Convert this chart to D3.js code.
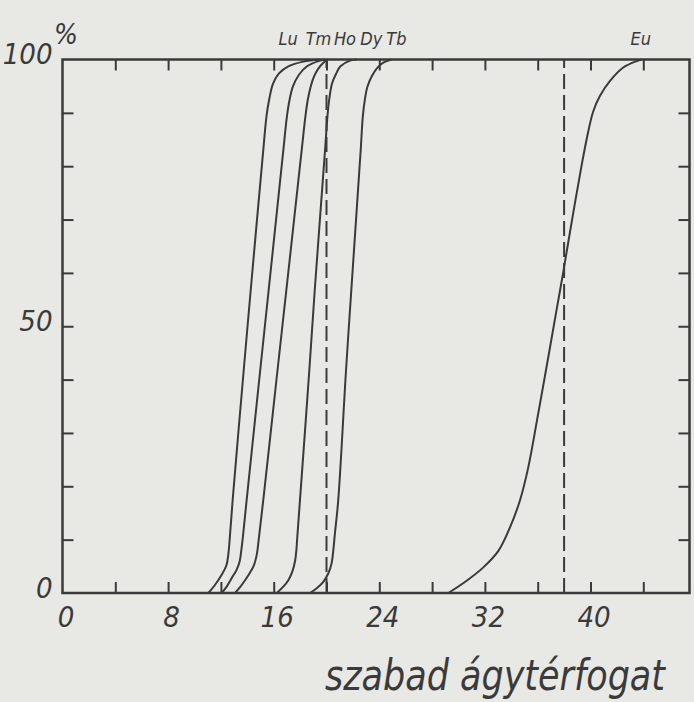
<!DOCTYPE html>
<html>
<head>
<meta charset="utf-8">
<script src="https://cdn.jsdelivr.net/npm/d3@7"></script>
<style>
  html, body { margin: 0; padding: 0; background: #e8e8e4; }
  svg { display: block; }
  .lbl { font-family: "Liberation Sans Narrow", "DejaVu Sans Condensed", sans-serif; font-style: italic; fill: #3a3a3a; }
  .tick line { stroke: #3a3a3a; stroke-width: 2; }
</style>
</head>
<body>
<div id="container"></div>
<script>
// elution curves, x = szabad ágytérfogat, y = %
const names = ["Lu", "Tm", "Ho", "Dy", "Tb", "Eu"];

const luX = [11.05, 11.55, 12.06, 12.42, 12.57, 12.66, 12.89, 13.73, 14.26, 15.21, 15.45, 15.65, 15.95, 16.40, 17.11, 18.24, 19.51];
const luY = [0, 1.5, 3.4, 5.2, 7.4, 9.9, 17.4, 41.8, 56.8, 83.0, 89.3, 92.4, 95.5, 97.4, 98.7, 99.6, 100];

const tmX = [12.06, 12.44, 12.82, 13.18, 13.42, 13.55, 13.67, 13.95, 14.98, 15.62, 16.73, 17.00, 17.20, 17.45, 17.90, 18.50, 19.38, 19.89];
const tmY = [0, 1.2, 2.8, 4.3, 5.9, 8.1, 10.6, 17.4, 41.8, 56.8, 83.0, 89.3, 92.4, 94.9, 97.1, 98.7, 99.7, 100];

const hoX = [13.07, 13.45, 13.83, 14.20, 14.50, 14.71, 14.86, 15.21, 16.29, 16.96, 18.12, 18.40, 18.58, 18.80, 19.05, 19.38, 19.76, 20.06];
const hoY = [0, 1.1, 2.4, 3.8, 5.2, 7.1, 9.9, 17.4, 41.8, 56.8, 83.0, 89.3, 92.4, 94.9, 96.8, 98.3, 99.4, 100];

const dyX = [16.23, 16.73, 17.11, 17.41, 17.61, 17.72, 17.79, 17.99, 18.70, 19.11, 19.89, 20.07, 20.20, 20.42, 20.74, 21.04, 21.78, 22.29];
const dyY = [0, 1.2, 2.4, 4.0, 5.9, 8.1, 10.6, 17.4, 41.8, 56.8, 83.0, 89.3, 92.4, 95.5, 97.4, 98.7, 99.8, 100];

const tbX = [18.75, 19.26, 19.76, 20.14, 20.39, 20.52, 20.64, 20.89, 21.48, 21.88, 22.59, 22.75, 22.90, 23.10, 23.42, 23.80, 24.30, 24.94];
const tbY = [0, 0.9, 2.1, 3.7, 5.6, 8.1, 11.2, 17.4, 41.8, 56.8, 83.0, 89.3, 92.4, 94.9, 96.8, 98.3, 99.4, 100];

const euX = [29.23, 30.62, 31.88, 33.02, 33.90, 34.66, 35.29, 36.00, 36.68, 37.44, 37.89, 38.58, 39.33, 39.83, 40.21, 40.72, 41.48, 42.48, 43.50, 43.88];
const euY = [0, 2.3, 4.8, 7.9, 12.3, 17.4, 23.6, 33.1, 42.5, 53.2, 59.5, 69.6, 80.2, 86.5, 90.3, 93.2, 96.0, 98.5, 99.7, 100];

// where the element names are written above the frame (x units)
const labelX = [17.1, 19.4, 21.4, 23.4, 25.3, 43.8];

const dashedX = [20, 38];

const xTicks = [4, 8, 12, 16, 20, 24, 28, 32, 36, 40, 44];
const xTickLabels = [0, 8, 16, 24, 32, 40];
const yTicks = [10, 20, 30, 40, 50, 60, 70, 80, 90];
const yTickLabels = [0, 50, 100];

const series = [[luX, luY], [tmX, tmY], [hoX, hoY], [dyX, dyY], [tbX, tbY], [euX, euY]]
  .map((s, i) => ({ name: names[i], pts: s[0].map((v, j) => [v, s[1][j]]) }));

const W = 694, H = 702;
const ink = "#3a3a3a";

const svg = d3.select("#container").append("svg")
  .attr("width", W)
  .attr("height", H);

const x = d3.scaleLinear().domain([0, 47.5]).range([62.5, 689.5]);
const y = d3.scaleLinear().domain([0, 100]).range([593, 59.5]);

// ticks pointing inward on all four sides
const tickAxis = (axis, tr) => svg.append("g")
  .attr("transform", tr)
  .call(axis)
  .call(g => g.select(".domain").remove());

tickAxis(d3.axisBottom(x).tickValues(xTicks).tickSizeInner(-11).tickSizeOuter(0).tickFormat(""), `translate(0,${y(0)})`);
tickAxis(d3.axisTop(x).tickValues(xTicks).tickSizeInner(-11).tickSizeOuter(0).tickFormat(""), `translate(0,${y(100)})`);
tickAxis(d3.axisLeft(y).tickValues(yTicks).tickSizeInner(-11).tickSizeOuter(0).tickFormat(""), `translate(${x(0)},0)`);
tickAxis(d3.axisRight(y).tickValues(yTicks).tickSizeInner(-11).tickSizeOuter(0).tickFormat(""), `translate(${x(47.5)},0)`);

// labels
const xl = svg.append("g")
  .attr("transform", `translate(0,${y(0)})`)
  .call(d3.axisBottom(x).tickValues(xTickLabels).tickSize(0).tickPadding(13))
  .call(g => g.select(".domain").remove());
xl.selectAll("text").attr("class", "lbl").attr("fill", null).style("font-size", "29px").attr("dx", "3");

const yl = svg.append("g")
  .attr("transform", `translate(${x(0)},0)`)
  .call(d3.axisLeft(y).tickValues(yTickLabels).tickSize(0).tickPadding(10))
  .call(g => g.select(".domain").remove());
yl.selectAll("text").attr("class", "lbl").attr("fill", null).style("font-size", "29px").attr("dy", "0.15em");

// frame
svg.append("rect")
  .attr("x", x(0))
  .attr("y", y(100))
  .attr("width", x(47.5) - x(0))
  .attr("height", y(0) - y(100))
  .attr("fill", "none")
  .attr("stroke", ink)
  .attr("stroke-width", 2.5);

// dashed verticals
svg.selectAll(".dash")
  .data(dashedX)
  .enter()
  .append("line")
  .attr("class", "dash")
  .attr("x1", d => x(d))
  .attr("x2", d => x(d))
  .attr("y1", y(0))
  .attr("y2", y(100))
  .attr("stroke", ink)
  .attr("stroke-width", 2)
  .attr("stroke-dasharray", "15,6");

const line = d3.line()
  .x(d => x(d[0]))
  .y(d => y(d[1]))
  .curve(d3.curveCatmullRom.alpha(0.5));

svg.selectAll(".curve")
  .data(series)
  .enter()
  .append("path")
  .attr("class", "curve")
  .attr("d", d => line(d.pts))
  .attr("fill", "none")
  .attr("stroke", ink)
  .attr("stroke-width", 2);

// element names above the frame
svg.selectAll(".el")
  .data(names)
  .enter()
  .append("text")
  .attr("class", "lbl el")
  .attr("x", (d, i) => x(labelX[i]))
  .attr("y", 45)
  .attr("text-anchor", "middle")
  .style("font-size", "18px")
  .text(d => d);

svg.append("text")
  .attr("class", "lbl")
  .attr("x", 54)
  .attr("y", 44)
  .style("font-size", "28px")
  .text("%");

svg.append("text")
  .attr("class", "lbl")
  .attr("x", 325)
  .attr("y", 690)
  .attr("textLength", 340)
  .attr("lengthAdjust", "spacingAndGlyphs")
  .style("font-size", "42px")
  .text("szabad ágytérfogat");
</script>
</body>
</html>
